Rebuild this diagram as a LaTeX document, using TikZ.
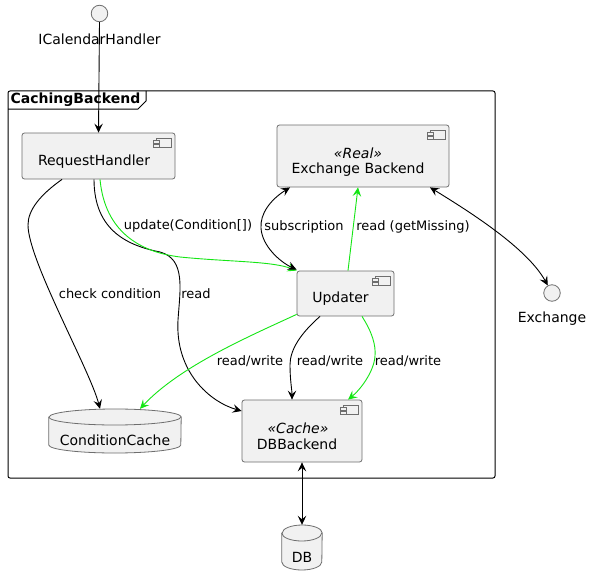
\documentclass[tikz,border=0pt]{standalone}
\usepackage{fontspec}
\setmainfont{DejaVu Sans}
\usetikzlibrary{arrows.meta,calc}
\definecolor{boxfill}{RGB}{241,241,241}
\definecolor{boxline}{RGB}{110,110,110}
\definecolor{umlgreen}{RGB}{20,230,20}
\tikzset{
  comp/.style={draw=boxline, fill=boxfill, rounded corners=2.5pt, line width=0.8pt, inner sep=0pt},
  dbbox/.style={inner sep=0pt},
  lbl/.style={font=\fontsize{13}{15}\selectfont, inner sep=1pt},
  nm/.style={font=\fontsize{14}{16}\selectfont, inner sep=0pt},
  st/.style={font=\fontsize{14}{16}\selectfont\itshape, inner sep=0pt},
  iface/.style={circle, draw=boxline, fill=boxfill, line width=0.8pt, minimum size=16.5pt, inner sep=0pt},
  tip/.tip={Stealth[length=9pt,width=8.5pt,inset=3.5pt]},
  conn/.style={line width=0.9pt, -tip},
  both/.style={line width=0.9pt, tip-tip},
  compicon/.pic={
    \draw[draw=boxline, fill=boxfill, line width=0.6pt] (-19,6) rectangle (-4,15);
    \draw[draw=boxline, fill=boxfill, line width=0.6pt] (-22,8) rectangle (-16,10.5);
    \draw[draw=boxline, fill=boxfill, line width=0.6pt] (-22,12) rectangle (-16,14.5);
  }
}
\begin{document}
\begin{tikzpicture}[x=1pt,y=-1pt]
\useasboundingbox (0,0) rectangle (592,586);
\fill[white] (0,0) rectangle (592,586);

% frame
\draw[line width=1pt, rounded corners=2pt] (8,91) rectangle (495,478);
\draw[line width=1pt] (8,109) -- (138,109) -- (146,101) -- (146,91);
\node[anchor=west, font=\fontsize{14}{16}\selectfont\bfseries, inner sep=0pt] (ftitle) at (10.5,99.5) {CachingBackend};

% interfaces
\node[iface] (ich) at (99.5,13.5) {};
\node[nm] (ichl) at (99.5,39) {ICalendarHandler};
\node[iface] (ex) at (552,293) {};
\node[nm] (exl) at (552,319) {Exchange};

% components
\node[comp, minimum width=153pt, minimum height=46pt] (rh) at (98.5,156) {};
\pic at (rh.north east) {compicon};
\node[nm] (rht) at (94,162) {RequestHandler};

\node[comp, minimum width=172pt, minimum height=62pt] (eb) at (363,156) {};
\pic at (eb.north east) {compicon};
\node[st] (ebs) at (358,153) {«Real»};
\node[nm] (ebt) at (358,169.5) {Exchange Backend};

\node[comp, minimum width=97pt, minimum height=45pt] (upd) at (345.5,293.5) {};
\pic at (upd.north east) {compicon};
\node[nm] (updt) at (340.5,298.5) {Updater};

\node[comp, minimum width=120pt, minimum height=62pt] (dbb) at (302,431) {};
\pic at (dbb.north east) {compicon};
\node[st] (dbbs) at (298,428) {«Cache»};
\node[nm] (dbbt) at (297,444) {DBBackend};

% databases
\node[dbbox, minimum width=132pt, minimum height=44pt] (cc) at (115,431) {};
\draw[draw=boxline, fill=boxfill, line width=0.8pt]
  (cc.west |- 0,417) -- (cc.west |- 0,445) arc[start angle=180, end angle=360, x radius=66pt, y radius=8pt]
  -- (cc.east |- 0,417) arc[start angle=0, end angle=180, x radius=66pt, y radius=8pt] -- cycle;
\draw[draw=boxline, line width=0.8pt] (cc.west |- 0,417) arc[start angle=180, end angle=360, x radius=66pt, y radius=8pt];
\node[nm] (cct) at (115,440) {ConditionCache};

\node[dbbox, minimum width=40pt, minimum height=45pt] (db) at (302,547.5) {};
\draw[draw=boxline, fill=boxfill, line width=0.8pt]
  (db.west |- 0,533) -- (db.west |- 0,562) arc[start angle=180, end angle=360, x radius=20pt, y radius=8pt]
  -- (db.east |- 0,533) arc[start angle=0, end angle=180, x radius=20pt, y radius=8pt] -- cycle;
\draw[draw=boxline, line width=0.8pt] (db.west |- 0,533) arc[start angle=180, end angle=360, x radius=20pt, y radius=8pt];
\node[nm] (dbt) at (302,557) {DB};

% connectors
\draw[conn] (ich.south) -- (rh.north);

\draw[conn] ([xshift=-36.5pt]rh.south) .. controls (40,195) and (28,210) .. (28,225)
  .. controls (28,260) and (90,370) .. ([xshift=-15pt]cc.north);
\node[lbl] (l1) at (110,294) {check condition};

\draw[conn] ([xshift=-4.5pt]rh.south) .. controls (94,232) and (130,246) .. (160,252)
  .. controls (186,259) and (180,290) .. (178,320)
  .. controls (175,372) and (210,402) .. ([yshift=20pt]dbb.west);
\node[lbl] (l2) at (196,294) {read};

\draw[conn, umlgreen] ([xshift=1.5pt]rh.south) .. controls (105,232) and (140,252) .. (180,257)
  .. controls (230,262) and (272,261) .. (upd.north west);
\node[lbl] (l3) at (188,226) {update(Condition[])};

\draw[both] ([xshift=-73pt]eb.south) .. controls (270,200) and (260,214) .. (261,228)
  .. controls (262,246) and (280,262) .. ([yshift=1pt]upd.north west);
\node[lbl] (l4) at (304,227) {subscription};

\draw[conn, umlgreen] ([xshift=2.5pt]upd.north) -- ([xshift=-5pt]eb.south);
\node[lbl] (l5) at (413,227) {read (getMissing)};

\draw[both] ([xshift=67pt]eb.south) .. controls (470,212) and (527,248) .. (ex);

\draw[conn, umlgreen] ([yshift=2pt]upd.south west) .. controls (250,336) and (180,366) .. ([xshift=25pt]cc.north);
\node[lbl] (l6) at (250,361) {read/write};

\draw[conn] ([xshift=-25.5pt]upd.south) .. controls (300,334) and (290,350) .. (290,365)
  .. controls (290,380) and (292,390) .. ([xshift=-10pt]dbb.north);
\node[lbl] (l7) at (330,361) {read/write};

\draw[conn, umlgreen] ([xshift=16.5pt]upd.south) .. controls (372,332) and (376,345) .. (375,356)
  .. controls (374,372) and (360,390) .. ([xshift=46pt]dbb.north);
\node[lbl] (l8) at (408,361) {read/write};

\draw[both] (dbb.south) -- (db.north);
\end{tikzpicture}
\end{document}
